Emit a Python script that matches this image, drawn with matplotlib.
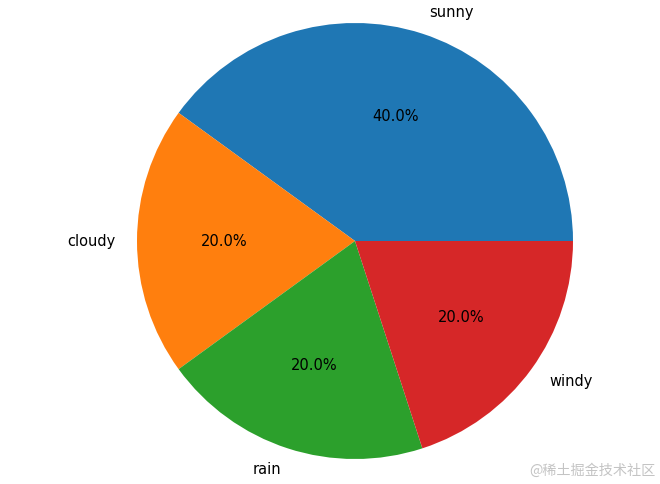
import matplotlib
matplotlib.use('Agg')
from matplotlib import pyplot as plt

labels = ['sunny', 'cloudy', 'rain', 'windy']
sizes = [40, 20, 20, 20]
watermark = '@稀土掘金技术社区'

if __name__ == '__main__':
    fig = plt.figure(figsize=(6.6, 4.84), dpi=100)
    ax = fig.add_axes([0, 0, 1, 1])

    ax.pie(sizes, labels=labels, autopct='%1.1f%%',
           textprops={'fontsize': 10.5})

    # pie radius ~218 px, centre at (355, 241) px
    r = 218.0
    ax.set_xlim(-355 / r, (660 - 355) / r)
    ax.set_ylim(-(484 - 241) / r, 241 / r)
    ax.set_aspect('auto')
    ax.axis('off')

    fig.text(0.993, 0.012, watermark, ha='right', va='bottom',
             fontsize=10.2, color='#c4c4c4',
             family=['Noto Sans CJK SC', 'DejaVu Sans'])

    fig.savefig('out.png', dpi=100)
